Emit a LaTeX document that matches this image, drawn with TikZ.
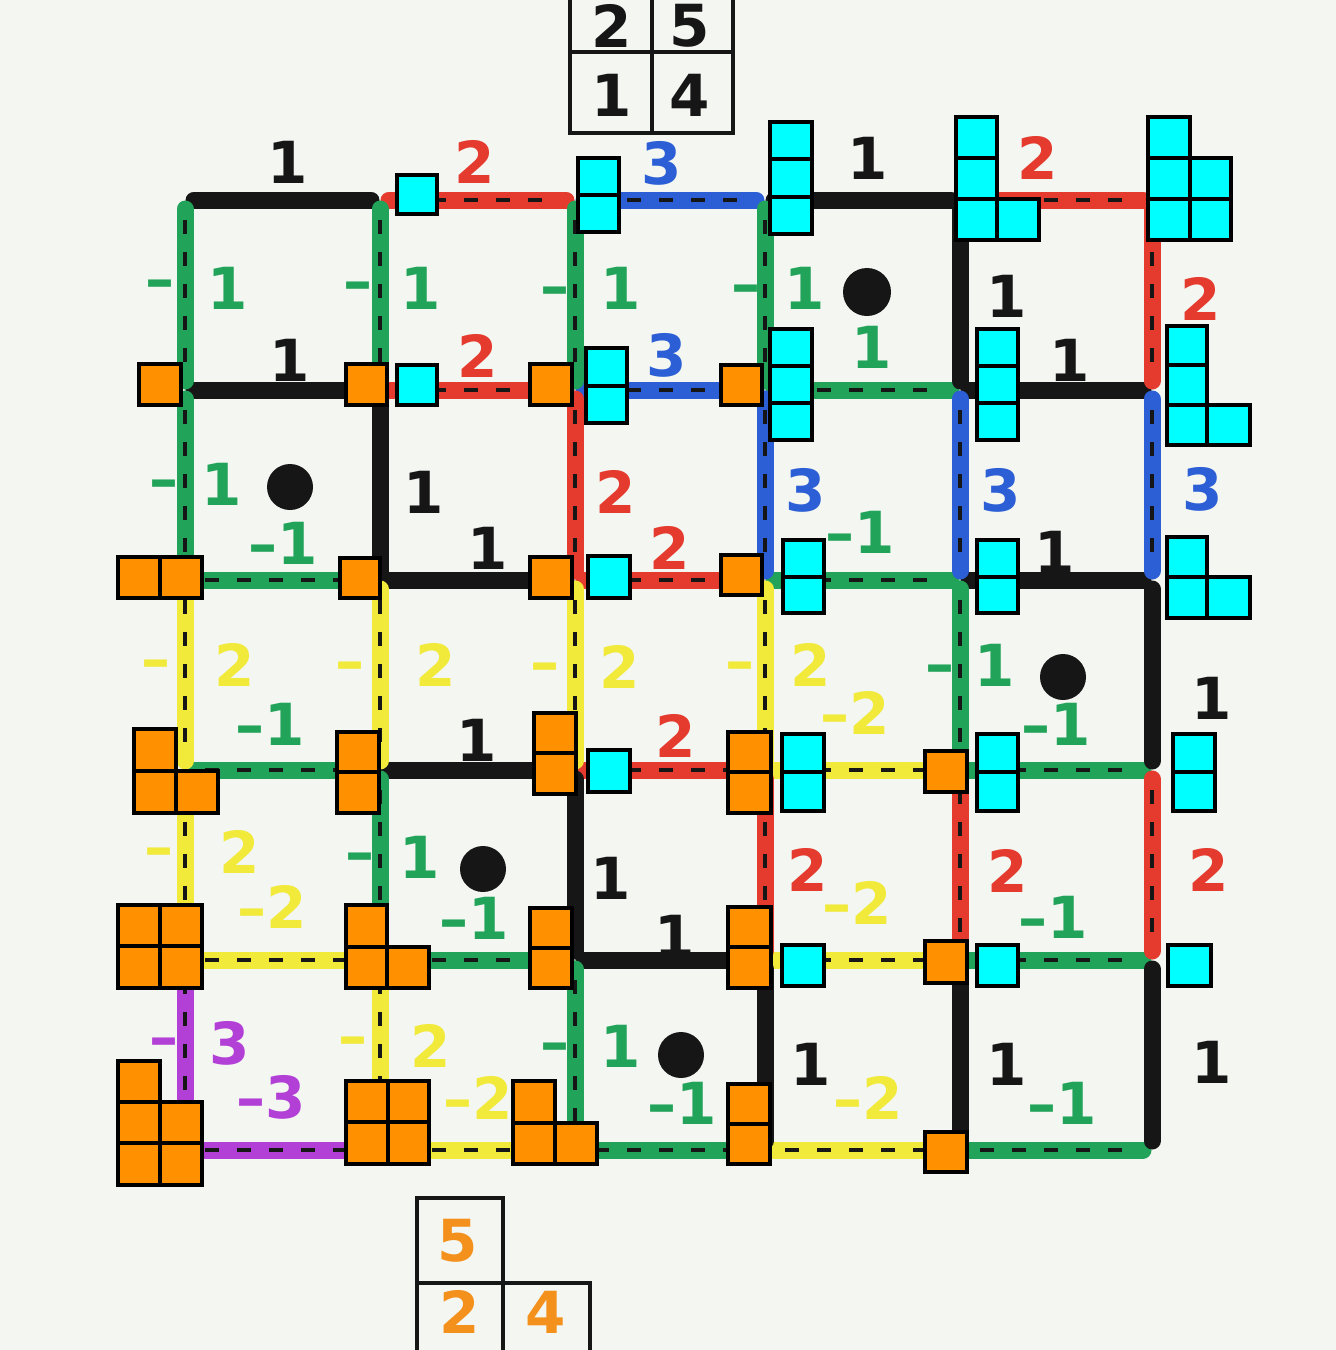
\documentclass[tikz,border=0pt]{standalone}
\usepackage{fontspec}
\setmainfont{DejaVu Sans}
\definecolor{paper}{HTML}{F3F6F1}
\definecolor{inkblack}{HTML}{161616}
\definecolor{inkred}{HTML}{E53A2E}
\definecolor{inkblue}{HTML}{2C5FD6}
\definecolor{inkgreen}{HTML}{22A35A}
\definecolor{inkyellow}{HTML}{F1EA3A}
\definecolor{inkpurple}{HTML}{B23FD6}
\definecolor{tileorange}{HTML}{FF9000}
\definecolor{tilecyan}{HTML}{00FFFF}
\definecolor{digitorange}{HTML}{F4901C}

\begin{document}
\begin{tikzpicture}[x=0.5pt, y=-0.5pt,
  edge/.style={line width=8.5pt, line cap=round, shorten <=4.5pt, shorten >=4.5pt},
  marked/.style={edge, postaction={draw=inkblack, line width=2pt, line cap=butt, dash pattern=on 7pt off 9pt, shorten <=10pt, shorten >=10pt}},
  blackedge/.style={edge, draw=inkblack},
  rededge/.style={marked, draw=inkred},
  blueedge/.style={marked, draw=inkblue},
  greenedge/.style={marked, draw=inkgreen},
  yellowedge/.style={marked, draw=inkyellow},
  purpleedge/.style={marked, draw=inkpurple},
  num/.style={font=\fontsize{29}{29}\selectfont\bfseries, inner sep=0pt},
  dot/.style={fill=inkblack},
  osq/.style={draw=black, line width=2.2pt, fill=tileorange},
  csq/.style={draw=black, line width=2.2pt, fill=tilecyan},
  legend/.style={draw=inkblack, line width=1.6pt, line cap=round}]
\fill[paper] (0,0) rectangle (1336,1350);
\useasboundingbox (0,0) rectangle (1336,1350);

\coordinate (g00) at (185,200);
\coordinate (g10) at (380,200);
\coordinate (g20) at (575,200);
\coordinate (g30) at (765,200);
\coordinate (g40) at (960,200);
\coordinate (g50) at (1152,200);
\coordinate (g01) at (185,390);
\coordinate (g11) at (380,390);
\coordinate (g21) at (575,390);
\coordinate (g31) at (765,390);
\coordinate (g41) at (960,390);
\coordinate (g51) at (1152,390);
\coordinate (g02) at (185,580);
\coordinate (g12) at (380,580);
\coordinate (g22) at (575,580);
\coordinate (g32) at (765,580);
\coordinate (g42) at (960,580);
\coordinate (g52) at (1152,580);
\coordinate (g03) at (185,770);
\coordinate (g13) at (380,770);
\coordinate (g23) at (575,770);
\coordinate (g33) at (765,770);
\coordinate (g43) at (960,770);
\coordinate (g53) at (1152,770);
\coordinate (g04) at (185,960);
\coordinate (g14) at (380,960);
\coordinate (g24) at (575,960);
\coordinate (g34) at (765,960);
\coordinate (g44) at (960,960);
\coordinate (g54) at (1152,960);
\coordinate (g05) at (185,1150);
\coordinate (g15) at (380,1150);
\coordinate (g25) at (575,1150);
\coordinate (g35) at (765,1150);
\coordinate (g45) at (960,1150);
\coordinate (g55) at (1152,1150);

\draw[blackedge] (g00) -- (g10);
\draw[rededge] (g10) -- (g20);
\draw[blueedge] (g20) -- (g30);
\draw[blackedge] (g30) -- (g40);
\draw[rededge] (g40) -- (g50);
\draw[blackedge] (g01) -- (g11);
\draw[rededge] (g11) -- (g21);
\draw[blueedge] (g21) -- (g31);
\draw[greenedge] (g31) -- (g41);
\draw[blackedge] (g41) -- (g51);
\draw[greenedge] (g02) -- (g12);
\draw[blackedge] (g12) -- (g22);
\draw[rededge] (g22) -- (g32);
\draw[greenedge] (g32) -- (g42);
\draw[blackedge] (g42) -- (g52);
\draw[greenedge] (g03) -- (g13);
\draw[blackedge] (g13) -- (g23);
\draw[rededge] (g23) -- (g33);
\draw[yellowedge] (g33) -- (g43);
\draw[greenedge] (g43) -- (g53);
\draw[yellowedge] (g04) -- (g14);
\draw[greenedge] (g14) -- (g24);
\draw[blackedge] (g24) -- (g34);
\draw[yellowedge] (g34) -- (g44);
\draw[greenedge] (g44) -- (g54);
\draw[purpleedge] (g05) -- (g15);
\draw[yellowedge] (g15) -- (g25);
\draw[greenedge] (g25) -- (g35);
\draw[yellowedge] (g35) -- (g45);
\draw[greenedge] (g45) -- (g55);

\draw[greenedge] (g00) -- (g01);
\draw[greenedge] (g01) -- (g02);
\draw[yellowedge] (g02) -- (g03);
\draw[yellowedge] (g03) -- (g04);
\draw[purpleedge] (g04) -- (g05);
\draw[greenedge] (g10) -- (g11);
\draw[blackedge] (g11) -- (g12);
\draw[yellowedge] (g12) -- (g13);
\draw[greenedge] (g13) -- (g14);
\draw[yellowedge] (g14) -- (g15);
\draw[greenedge] (g20) -- (g21);
\draw[rededge] (g21) -- (g22);
\draw[yellowedge] (g22) -- (g23);
\draw[blackedge] (g23) -- (g24);
\draw[greenedge] (g24) -- (g25);
\draw[greenedge] (g30) -- (g31);
\draw[blueedge] (g31) -- (g32);
\draw[yellowedge] (g32) -- (g33);
\draw[rededge] (g33) -- (g34);
\draw[blackedge] (g34) -- (g35);
\draw[blackedge] (g40) -- (g41);
\draw[blueedge] (g41) -- (g42);
\draw[greenedge] (g42) -- (g43);
\draw[rededge] (g43) -- (g44);
\draw[blackedge] (g44) -- (g45);
\draw[rededge] (g50) -- (g51);
\draw[blueedge] (g51) -- (g52);
\draw[blackedge] (g52) -- (g53);
\draw[rededge] (g53) -- (g54);
\draw[blackedge] (g54) -- (g55);

\node[num, text=inkblack] (h00) at (288,162) {1};
\node[num, text=inkred] (h01) at (475,162) {2};
\node[num, text=inkblue] (h02) at (662,163) {3};
\node[num, text=inkblack] (h03) at (868,158) {1};
\node[num, text=inkred] (h04) at (1038,158) {2};
\node[num, text=inkblack] (h10) at (290,360) {1};
\node[num, text=inkred] (h11) at (478,356) {2};
\node[num, text=inkblue] (h12) at (667,355) {3};
\node[num, text=inkgreen] (h13) at (872,347) {1};
\node[num, text=inkblack] (h14) at (1070,360) {1};
\node[num, text=inkgreen] (h20) at (283,543) {\textendash1};
\node[num, text=inkblack] (h21) at (488,548) {1};
\node[num, text=inkred] (h22) at (670,548) {2};
\node[num, text=inkgreen] (h23) at (860,532) {\textendash1};
\node[num, text=inkblack] (h24) at (1055,552) {1};
\node[num, text=inkgreen] (h30) at (270,724) {\textendash1};
\node[num, text=inkblack] (h31) at (477,740) {1};
\node[num, text=inkred] (h32) at (676,736) {2};
\node[num, text=inkyellow] (h33) at (855,713) {\textendash2};
\node[num, text=inkgreen] (h34) at (1056,724) {\textendash1};
\node[num, text=inkyellow] (h40) at (272,907) {\textendash2};
\node[num, text=inkgreen] (h41) at (474,918) {\textendash1};
\node[num, text=inkblack] (h42) at (675,936) {1};
\node[num, text=inkyellow] (h43) at (857,903) {\textendash2};
\node[num, text=inkgreen] (h44) at (1053,917) {\textendash1};
\node[num, text=inkpurple] (h50) at (271,1097) {\textendash3};
\node[num, text=inkyellow] (h51) at (478,1098) {\textendash2};
\node[num, text=inkgreen] (h52) at (682,1103) {\textendash1};
\node[num, text=inkyellow] (h53) at (868,1098) {\textendash2};
\node[num, text=inkgreen] (h54) at (1062,1103) {\textendash1};

\node[num, text=inkgreen] (v00m) at (160,290) {\textendash};
\node[num, text=inkgreen] (v00) at (228,288) {1};
\node[num, text=inkgreen] (v01m) at (164,490) {\textendash};
\node[num, text=inkgreen] (v01) at (222,484) {1};
\node[num, text=inkyellow] (v02m) at (156,670) {\textendash};
\node[num, text=inkyellow] (v02) at (235,665) {2};
\node[num, text=inkyellow] (v03m) at (159,858) {\textendash};
\node[num, text=inkyellow] (v03) at (240,852) {2};
\node[num, text=inkpurple] (v04m) at (164,1048) {\textendash};
\node[num, text=inkpurple] (v04) at (230,1043) {3};
\node[num, text=inkgreen] (v10m) at (358,292) {\textendash};
\node[num, text=inkgreen] (v10) at (421,288) {1};
\node[num, text=inkblack] (v11) at (424,492) {1};
\node[num, text=inkyellow] (v12m) at (350,672) {\textendash};
\node[num, text=inkyellow] (v12) at (436,665) {2};
\node[num, text=inkgreen] (v13m) at (360,863) {\textendash};
\node[num, text=inkgreen] (v13) at (420,857) {1};
\node[num, text=inkyellow] (v14m) at (353,1047) {\textendash};
\node[num, text=inkyellow] (v14) at (431,1046) {2};
\node[num, text=inkgreen] (v20m) at (555,297) {\textendash};
\node[num, text=inkgreen] (v20) at (621,288) {1};
\node[num, text=inkred] (v21) at (616,492) {2};
\node[num, text=inkyellow] (v22m) at (545,673) {\textendash};
\node[num, text=inkyellow] (v22) at (620,667) {2};
\node[num, text=inkblack] (v23) at (611,878) {1};
\node[num, text=inkgreen] (v24m) at (555,1053) {\textendash};
\node[num, text=inkgreen] (v24) at (621,1046) {1};
\node[num, text=inkgreen] (v30m) at (746,295) {\textendash};
\node[num, text=inkgreen] (v30) at (805,288) {1};
\node[num, text=inkblue] (v31) at (806,490) {3};
\node[num, text=inkyellow] (v32m) at (740,672) {\textendash};
\node[num, text=inkyellow] (v32) at (811,665) {2};
\node[num, text=inkred] (v33) at (808,870) {2};
\node[num, text=inkblack] (v34) at (811,1064) {1};
\node[num, text=inkblack] (v40) at (1007,296) {1};
\node[num, text=inkblue] (v41) at (1001,490) {3};
\node[num, text=inkgreen] (v42m) at (940,675) {\textendash};
\node[num, text=inkgreen] (v42) at (995,665) {1};
\node[num, text=inkred] (v43) at (1008,871) {2};
\node[num, text=inkblack] (v44) at (1007,1064) {1};
\node[num, text=inkred] (v50) at (1201,299) {2};
\node[num, text=inkblue] (v51) at (1203,489) {3};
\node[num, text=inkblack] (v52) at (1212,698) {1};
\node[num, text=inkred] (v53) at (1209,870) {2};
\node[num, text=inkblack] (v54) at (1212,1062) {1};

\fill[dot] (867,292) circle (24);
\fill[dot] (290,487) circle (23);
\fill[dot] (1063,677) circle (23);
\fill[dot] (483,869) circle (23);
\fill[dot] (681,1055) circle (23);

\draw[csq] (397,175) rectangle (437,214);
\draw[csq] (578,158) rectangle (619,195);
\draw[csq] (578,195) rectangle (619,232);
\draw[csq] (770,122) rectangle (812,159);
\draw[csq] (770,159) rectangle (812,197);
\draw[csq] (770,197) rectangle (812,234);
\draw[csq] (956,117) rectangle (997,158);
\draw[csq] (956,158) rectangle (997,199);
\draw[csq] (956,199) rectangle (997,240);
\draw[csq] (997,199) rectangle (1039,240);
\draw[csq] (1148,117) rectangle (1190,158);
\draw[csq] (1148,158) rectangle (1190,199);
\draw[csq] (1190,158) rectangle (1231,199);
\draw[csq] (1148,199) rectangle (1190,240);
\draw[csq] (1190,199) rectangle (1231,240);
\draw[csq] (397,365) rectangle (437,405);
\draw[csq] (586,348) rectangle (627,386);
\draw[csq] (586,386) rectangle (627,423);
\draw[csq] (770,329) rectangle (812,366);
\draw[csq] (770,366) rectangle (812,403);
\draw[csq] (770,403) rectangle (812,440);
\draw[csq] (977,329) rectangle (1018,366);
\draw[csq] (977,366) rectangle (1018,403);
\draw[csq] (977,403) rectangle (1018,440);
\draw[csq] (1167,326) rectangle (1207,365);
\draw[csq] (1167,365) rectangle (1207,405);
\draw[csq] (1167,405) rectangle (1207,445);
\draw[csq] (1207,405) rectangle (1250,445);
\draw[csq] (588,556) rectangle (630,598);
\draw[csq] (783,540) rectangle (824,577);
\draw[csq] (783,577) rectangle (824,613);
\draw[csq] (977,540) rectangle (1018,577);
\draw[csq] (977,577) rectangle (1018,613);
\draw[csq] (1167,537) rectangle (1207,577);
\draw[csq] (1167,577) rectangle (1207,618);
\draw[csq] (1207,577) rectangle (1250,618);
\draw[csq] (588,750) rectangle (630,792);
\draw[csq] (782,734) rectangle (824,772);
\draw[csq] (782,772) rectangle (824,811);
\draw[csq] (977,734) rectangle (1018,772);
\draw[csq] (977,772) rectangle (1018,811);
\draw[csq] (1173,734) rectangle (1215,772);
\draw[csq] (1173,772) rectangle (1215,811);
\draw[csq] (782,945) rectangle (824,986);
\draw[csq] (977,945) rectangle (1018,986);
\draw[csq] (1168,945) rectangle (1211,986);

\draw[osq] (139,364) rectangle (181,405);
\draw[osq] (346,364) rectangle (387,405);
\draw[osq] (530,364) rectangle (572,405);
\draw[osq] (721,365) rectangle (762,405);
\draw[osq] (118,557) rectangle (160,598);
\draw[osq] (160,557) rectangle (202,598);
\draw[osq] (340,558) rectangle (380,598);
\draw[osq] (530,557) rectangle (572,598);
\draw[osq] (721,555) rectangle (762,595);
\draw[osq] (134,729) rectangle (176,771);
\draw[osq] (134,771) rectangle (176,813);
\draw[osq] (176,771) rectangle (218,813);
\draw[osq] (337,732) rectangle (379,772);
\draw[osq] (337,772) rectangle (379,813);
\draw[osq] (534,713) rectangle (576,753);
\draw[osq] (534,753) rectangle (576,794);
\draw[osq] (728,732) rectangle (771,772);
\draw[osq] (728,772) rectangle (771,813);
\draw[osq] (925,751) rectangle (967,792);
\draw[osq] (118,905) rectangle (160,946);
\draw[osq] (160,905) rectangle (202,946);
\draw[osq] (118,946) rectangle (160,988);
\draw[osq] (160,946) rectangle (202,988);
\draw[osq] (346,905) rectangle (387,947);
\draw[osq] (346,947) rectangle (387,988);
\draw[osq] (387,947) rectangle (429,988);
\draw[osq] (530,908) rectangle (572,948);
\draw[osq] (530,948) rectangle (572,988);
\draw[osq] (728,907) rectangle (771,947);
\draw[osq] (728,947) rectangle (771,988);
\draw[osq] (925,941) rectangle (967,983);
\draw[osq] (118,1061) rectangle (160,1102);
\draw[osq] (118,1102) rectangle (160,1143);
\draw[osq] (160,1102) rectangle (202,1143);
\draw[osq] (118,1143) rectangle (160,1185);
\draw[osq] (160,1143) rectangle (202,1185);
\draw[osq] (346,1081) rectangle (388,1122);
\draw[osq] (388,1081) rectangle (429,1122);
\draw[osq] (346,1122) rectangle (388,1164);
\draw[osq] (388,1122) rectangle (429,1164);
\draw[osq] (513,1081) rectangle (555,1123);
\draw[osq] (513,1123) rectangle (555,1164);
\draw[osq] (555,1123) rectangle (597,1164);
\draw[osq] (728,1084) rectangle (770,1124);
\draw[osq] (728,1124) rectangle (770,1164);
\draw[osq] (925,1132) rectangle (967,1172);

\draw[legend] (570,0) -- (570,133) -- (733,133) -- (733,0);
\draw[legend] (652,0) -- (652,133);
\draw[legend] (570,52) -- (733,52);
\node[num, text=inkblack] (top25a) at (612,26) {2};
\node[num, text=inkblack] (top25b) at (690,26) {5};
\node[num, text=inkblack] (top14a) at (612,95) {1};
\node[num, text=inkblack] (top14b) at (690,95) {4};

\draw[legend] (417,1350) -- (417,1198) -- (503,1198) -- (503,1350);
\draw[legend] (417,1283) -- (590,1283) -- (590,1350);
\node[num, text=digitorange] (bot5) at (458,1241) {5};
\node[num, text=digitorange] (bot2) at (460,1312) {2};
\node[num, text=digitorange] (bot4) at (546,1312) {4};
\end{tikzpicture}
\end{document}
